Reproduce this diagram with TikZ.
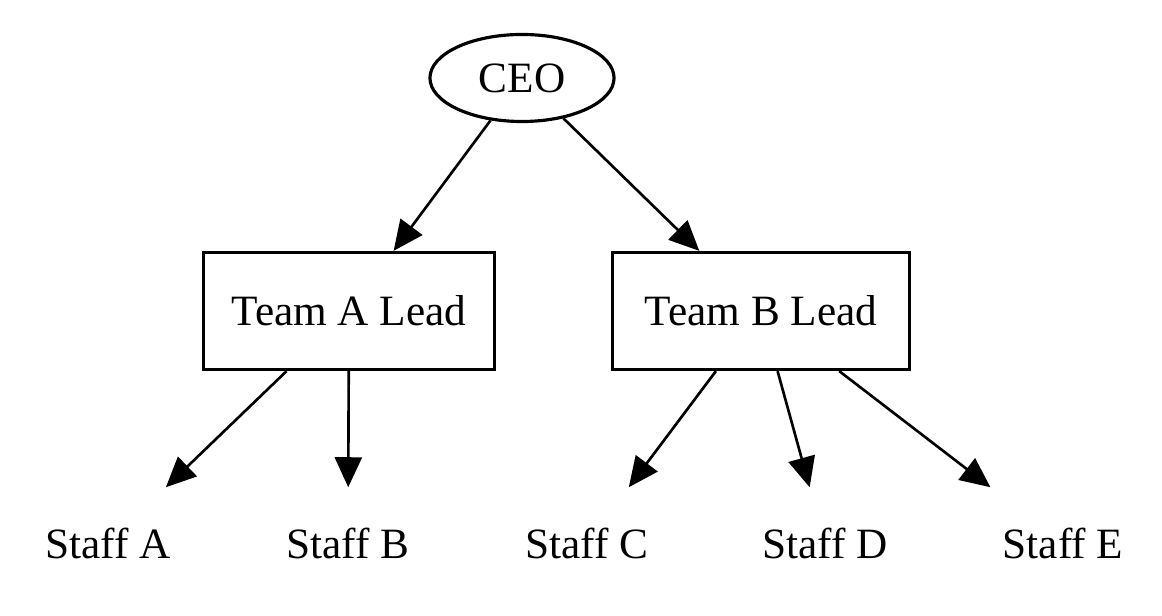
\documentclass[tikz,border=0pt]{standalone}
\usepackage{fontspec}
\setmainfont{Liberation Serif}
\usetikzlibrary{arrows.meta, shapes.geometric}

\begin{document}
\begin{tikzpicture}[x=0.01cm, y=-0.01cm,
    every node/.style={font=\fontsize{12.3}{14}\selectfont},
    chief/.style={draw, line width=0.9pt, ellipse, minimum width=1.84cm, minimum height=0.87cm, inner sep=0pt},
    lead/.style={draw, line width=0.9pt, rectangle, minimum height=1.17cm, inner sep=0pt},
    staff/.style={minimum width=1.6cm, minimum height=1.1cm, inner sep=0pt},
    link/.style={line width=0.75pt, -{Triangle[length=0.3cm, width=0.27cm]}}]
        \useasboundingbox (0,0) rectangle (1162,616);

        \node[chief] (ceo) at (522,78) {CEO};

        \node[lead, minimum width=2.90cm] (leadA) at (349,311) {Team A Lead};
        \node[lead, minimum width=2.96cm] (leadB) at (761,311) {Team B Lead};

        \node[staff] (staffA) at (108,543) {Staff A};
        \node[staff] (staffB) at (348,543) {Staff B};
        \node[staff] (staffC) at (587,543) {Staff C};
        \node[staff] (staffD) at (825,543) {Staff D};
        \node[staff] (staffE) at (1063,543) {Staff E};

        \draw[link] (ceo) -- (leadA);
        \draw[link] (ceo) -- (leadB);
        \draw[link] (leadA) -- (staffA);
        \draw[link] (leadA) -- (staffB);
        \draw[link] (leadB) -- (staffC);
        \draw[link] (leadB) -- (staffD);
        \draw[link] (leadB) -- (staffE);
      \end{tikzpicture}
\end{document}
